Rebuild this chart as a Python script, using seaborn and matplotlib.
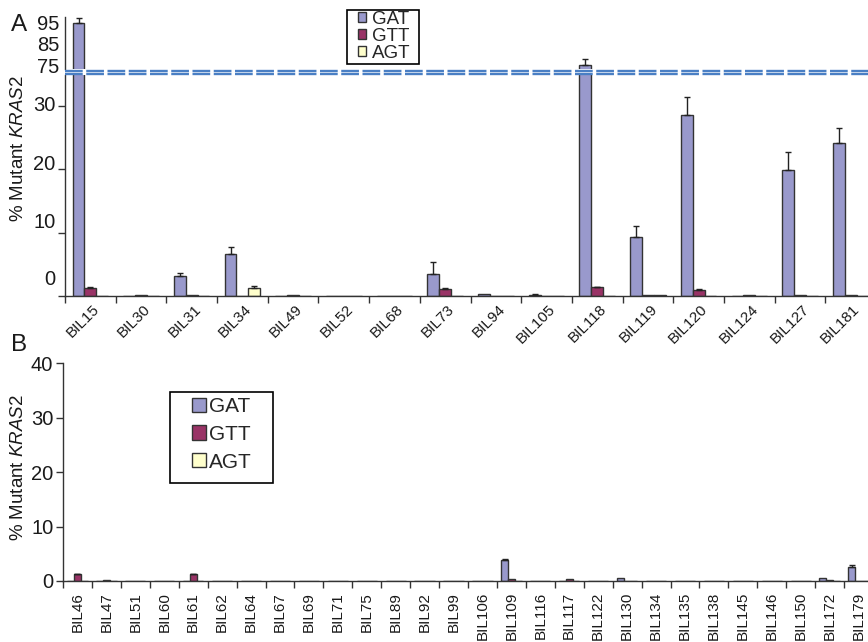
import matplotlib
matplotlib.use('Agg')
import matplotlib.pyplot as plt
import matplotlib.transforms as mtransforms
from matplotlib.lines import Line2D
from matplotlib.patches import Patch, Rectangle
import seaborn as sns
import pandas as pd
import numpy as np

mutations = ['GAT', 'GTT', 'AGT']
colors = ['#9999cc', '#993366', '#ffffcc']

# panel A
samples_a = ['BIL15', 'BIL30', 'BIL31', 'BIL34', 'BIL49', 'BIL52', 'BIL68', 'BIL73',
             'BIL94', 'BIL105', 'BIL118', 'BIL119', 'BIL120', 'BIL124', 'BIL127', 'BIL181']
gat_a = [94.5, 0, 3.2, 6.6, 0, 0, 0, 3.5, 0.3, 0.1, 75.5, 9.3, 28.6, 0, 19.9, 24.1]
gtt_a = [1.3, 0.2, 0.2, 0, 0.2, 0, 0, 1.1, 0, 0, 1.4, 0.1, 0.95, 0.2, 0.1, 0.1]
agt_a = [0, 0, 0, 1.3, 0, 0, 0, 0, 0, 0, 0, 0.1, 0, 0, 0, 0]
gat_a_err = [2.5, 0, 0.4, 1.1, 0, 0, 0, 1.8, 0, 0.2, 2.7, 1.8, 2.8, 0, 2.9, 2.5]
gtt_a_err = [0.2, 0, 0, 0, 0, 0, 0, 0.1, 0, 0, 0.1, 0, 0.1, 0, 0, 0]
agt_a_err = [0, 0, 0, 0.3, 0, 0, 0, 0, 0, 0, 0, 0, 0, 0, 0, 0]

# panel B
samples_b = ['BIL46', 'BIL47', 'BIL51', 'BIL60', 'BIL61', 'BIL62', 'BIL64', 'BIL67',
             'BIL69', 'BIL71', 'BIL75', 'BIL89', 'BIL92', 'BIL99', 'BIL106', 'BIL109',
             'BIL116', 'BIL117', 'BIL122', 'BIL130', 'BIL134', 'BIL135', 'BIL138', 'BIL145',
             'BIL146', 'BIL150', 'BIL172', 'BIL179']
gat_b = [0, 0, 0, 0, 0, 0, 0, 0, 0, 0, 0, 0, 0, 0, 0, 3.85,
         0, 0, 0, 0.5, 0, 0, 0, 0, 0, 0, 0.5, 2.6]
gtt_b = [1.2, 0.2, 0, 0, 1.2, 0, 0, 0, 0, 0, 0, 0, 0, 0, 0, 0.3,
         0, 0.4, 0, 0, 0, 0, 0, 0, 0, 0, 0.15, 0]
agt_b = [0] * 28
gat_b_err = [0, 0, 0, 0, 0, 0, 0, 0, 0, 0, 0, 0, 0, 0, 0, 0.2,
             0, 0, 0, 0, 0, 0, 0, 0, 0, 0, 0, 0.3]
gtt_b_err = [0.1, 0, 0, 0, 0.1, 0, 0, 0, 0, 0, 0, 0, 0, 0, 0, 0,
             0, 0, 0, 0, 0, 0, 0, 0, 0, 0, 0, 0]
agt_b_err = [0] * 28

sns.set_style('white')
plt.rcParams['font.family'] = ['Liberation Sans', 'DejaVu Sans']
plt.rcParams['mathtext.fontset'] = 'custom'
plt.rcParams['mathtext.rm'] = 'Liberation Sans'
plt.rcParams['mathtext.it'] = 'Liberation Sans:italic'

EDGE = '#333333'
TXT = '#1a1a1a'


def long_df(samples, series):
    frames = [pd.DataFrame({'sample': samples, 'value': vals, 'mutation': m})
              for m, vals in zip(mutations, series)]
    return pd.concat(frames, ignore_index=True)


def draw_bars(ax, samples, series, errs):
    df = long_df(samples, series)
    sns.barplot(data=df, x='sample', y='value', hue='mutation', hue_order=mutations,
                order=samples, palette=colors, saturation=1, width=0.7, gap=0,
                edgecolor=EDGE, linewidth=1.0, errorbar=None, legend=False, ax=ax)
    for cont, err in zip(ax.containers, errs):
        err = np.asarray(err, dtype=float)
        xs = np.array([b.get_x() + b.get_width() / 2 for b in cont])
        ys = np.array([b.get_height() for b in cont])
        m = err > 0
        if m.any():
            ax.errorbar(xs[m], ys[m], yerr=[np.zeros(m.sum()), err[m]], fmt='none',
                        ecolor='#222222', elinewidth=1.0, capsize=2.5, capthick=1.0)
    n = len(samples)
    ax.set_xlim(-0.5, n - 0.5)
    ax.set_xticks(np.arange(-0.5, n, 1), minor=True)
    ax.set_xlabel('')
    ax.set_ylabel('')
    for s in ['top', 'right']:
        ax.spines[s].set_visible(False)
    for s in ['left', 'bottom']:
        ax.spines[s].set_color(EDGE)
        ax.spines[s].set_linewidth(1)


W, H = 868, 642
fig = plt.figure(figsize=(8.68, 6.42), dpi=100)


def box(l, r, t, b):
    return [l / W, 1 - b / H, (r - l) / W, (b - t) / H]


def fpt(x, y):
    return (x / W, 1 - y / H)


ax_top = fig.add_axes(box(65, 876, 17, 69))
ax_low = fig.add_axes(box(65, 876, 75, 296))
ax_b = fig.add_axes(box(63, 873, 363, 581))

series_a = [gat_a, gtt_a, agt_a]
errs_a = [gat_a_err, gtt_a_err, agt_a_err]
draw_bars(ax_top, samples_a, series_a, errs_a)
draw_bars(ax_low, samples_a, series_a, errs_a)
draw_bars(ax_b, samples_b, [gat_b, gtt_b, agt_b], [gat_b_err, gtt_b_err, agt_b_err])

# upper segment of broken axis
ax_top.set_ylim(73.6, 97.3)
ax_top.set_yticks([75, 85, 95])
ax_top.spines['bottom'].set_visible(False)
ax_top.set_xticks([])
ax_top.set_xticks([], minor=True)
ax_top.tick_params(axis='y', length=0, pad=4, labelsize=14.5, labelcolor=TXT)

# lower segment
ax_low.set_ylim(0, 34.9)
ax_low.set_yticks([0, 10, 20, 30])
ax_low.tick_params(axis='y', which='major', direction='out', length=5, width=1,
                   color=EDGE, left=True, pad=2, labelsize=14.5, labelcolor=TXT)
ax_low.tick_params(axis='x', which='major', length=0, pad=4, labelsize=11,
                   labelcolor=TXT)
ax_low.tick_params(axis='x', which='minor', direction='out', length=5, width=1,
                   color=EDGE, bottom=True)
ax_low.set_xticks(range(len(samples_a)))
ax_low.set_xticklabels(samples_a, rotation=45, ha='right', va='center',
                       rotation_mode='anchor')
for lab in ax_low.get_xticklabels():
    lab.set_transform(lab.get_transform() +
                      mtransforms.ScaledTranslation(5 / 72, -4 / 72, fig.dpi_scale_trans))
# y labels sit a little above their ticks in the original
for lab, dy in zip(ax_low.get_yticklabels(), [13, 9, 5, 1.5]):
    lab.set_transform(lab.get_transform() +
                      mtransforms.ScaledTranslation(0, dy / 72, fig.dpi_scale_trans))

# panel B axes
ax_b.set_ylim(0, 40)
ax_b.set_yticks([0, 10, 20, 30, 40])
ax_b.tick_params(axis='y', which='major', direction='out', length=5, width=1,
                 color=EDGE, left=True, pad=2, labelsize=14.5, labelcolor=TXT)
ax_b.tick_params(axis='x', which='major', length=0, pad=8, labelsize=11,
                 labelcolor=TXT)
ax_b.tick_params(axis='x', which='minor', direction='out', length=5, width=1,
                 color=EDGE, bottom=True)
ax_b.set_xticks(range(len(samples_b)))
ax_b.set_xticklabels(samples_b, rotation=90, ha='center', va='top')

# break marks
for yp in [70.5, 73.5]:
    fig.add_artist(Line2D([65 / W, 1.0], [1 - yp / H, 1 - yp / H],
                          transform=fig.transFigure, color='#4a7fc4', lw=1.7,
                          dashes=(7.5, 1.5)))

# legends (frames drawn separately to get the wide side padding)
handles = [Patch(facecolor=c, edgecolor=EDGE, lw=1.0) for c in colors]
fig.legend(handles, mutations, loc='upper left', bbox_to_anchor=fpt(358, 11),
           fontsize=13.5, frameon=False, handlelength=0.45, handleheight=0.45,
           handletextpad=0.3, labelspacing=0.0, borderpad=0, borderaxespad=0)
fig.add_artist(Rectangle(fpt(347, 64), 72 / W, 54 / H, transform=fig.transFigure,
                         fill=False, edgecolor='black', lw=1.2))
fig.legend(handles, mutations, loc='upper left', bbox_to_anchor=fpt(192, 397),
           fontsize=15, frameon=False, handlelength=0.68, handleheight=0.68,
           handletextpad=0.15, labelspacing=0.42, borderpad=0, borderaxespad=0)
fig.add_artist(Rectangle(fpt(170, 483), 103 / W, 91 / H, transform=fig.transFigure,
                         fill=False, edgecolor='black', lw=1.2))

# axis titles and panel letters
ylab = r'% Mutant $\mathit{KRAS2}$'
fig.text(19 / W, 1 - 149 / H, ylab, rotation=90, ha='center', va='center',
         fontsize=13.5, color=TXT)
fig.text(19 / W, 1 - 468 / H, ylab, rotation=90, ha='center', va='center',
         fontsize=13.5, color=TXT)
fig.text(11 / W, 1 - 25 / H, 'A', ha='left', va='center', fontsize=17.5, color=TXT)
fig.text(11 / W, 1 - 345 / H, 'B', ha='left', va='center', fontsize=17.5, color=TXT)

fig.savefig('out.png', dpi=100)
